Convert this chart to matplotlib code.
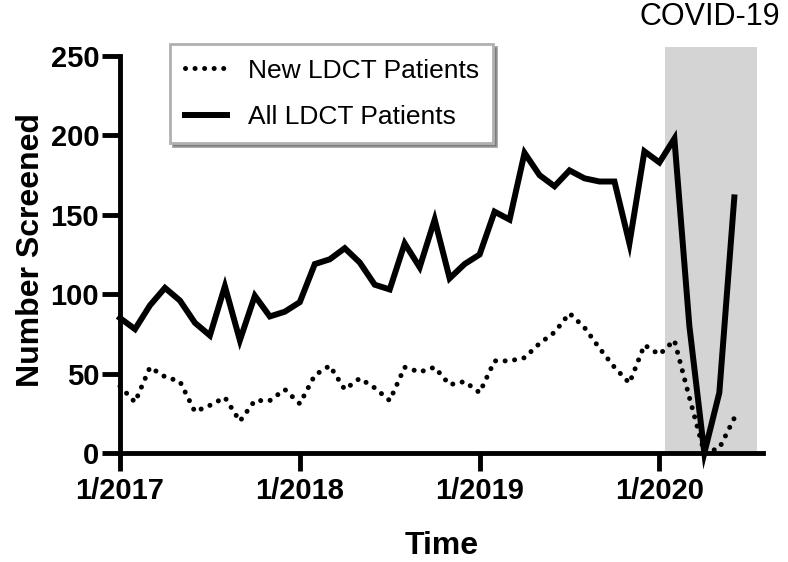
import matplotlib.pyplot as plt
import numpy as np

plt.rcParams['font.family'] = ['Liberation Sans', 'DejaVu Sans']

#monthly counts from 1/2017 to 6/2020
all_ldct = [85, 78, 93, 104, 96, 82, 74, 105, 71, 99, 86, 89,
            95, 119, 122, 129, 120, 106, 103, 132, 117, 147, 110, 119,
            125, 152, 147, 189, 175, 168, 178, 173, 171, 171, 132, 190,
            183, 198, 80, 0, 38, 161]
new_ldct = [42, 32, 54, 48, 45, 26, 30, 35, 20, 33, 33, 40,
            31, 49, 55, 40, 47, 41, 33, 54, 51, 54, 43, 45,
            38, 58, 58, 60, 69, 76, 88, 79, 66, 54, 44, 68,
            62, 71, 35, 0, 3, 22]
months = np.arange(len(all_ldct))
tick_months = [0, 12, 24, 36]
tick_labels = ['1/2017', '1/2018', '1/2019', '1/2020']
y_ticks = [0, 50, 100, 150, 200, 250]
covid_span = [36.4, 42.5]

fig = plt.figure(figsize=(7.88, 5.62), dpi=100)
ax = fig.add_axes([0.1523, 0.194, 0.8157, 0.722])

#shaded covid period
ax.axvspan(covid_span[0], covid_span[1], color='#d4d4d4', lw=0, zorder=0)

ax.plot(months, new_ldct, color='black', lw=3.6, linestyle=(0, (0.01, 1.9)),
        dash_capstyle='round', label='New LDCT Patients', clip_on=False)
ax.plot(months, all_ldct, color='black', lw=4.3, solid_joinstyle='miter',
        label='All LDCT Patients', clip_on=False)

ax.set_xlim(0, 42.9)
ax.set_ylim(0, 255.6)
ax.set_xticks(tick_months)
ax.set_xticklabels(tick_labels)
ax.set_yticks(y_ticks)

for s in ['top', 'right']:
    ax.spines[s].set_visible(False)
for s in ['left', 'bottom']:
    ax.spines[s].set_linewidth(3.5)
ax.spines['left'].set_bounds(0, 250)
ax.tick_params(width=3.5, length=13, labelsize=21)
ax.tick_params(axis='y', pad=2)
ax.tick_params(axis='x', pad=4)
for lab in ax.get_xticklabels() + ax.get_yticklabels():
    lab.set_fontweight('bold')

ax.set_xlabel('Time', fontsize=23, fontweight='bold', labelpad=19)
ax.set_ylabel('Number Screened', fontsize=23, fontweight='bold', labelpad=3)

fig.text(710 / 788, 1 - 17 / 562, 'COVID-19', fontsize=22,
         ha='center', va='center')

leg = ax.legend(loc='upper left', bbox_to_anchor=(170 / 788, 1 - 44 / 562),
                bbox_transform=fig.transFigure, fontsize=19, frameon=True,
                fancybox=False, shadow=True, borderaxespad=0,
                handlelength=1.6, handletextpad=0.8, labelspacing=0.85,
                borderpad=0.55)
leg.get_frame().set_edgecolor('#b0b0b0')
leg.get_frame().set_linewidth(2)

fig.savefig('out.png', dpi=100)
